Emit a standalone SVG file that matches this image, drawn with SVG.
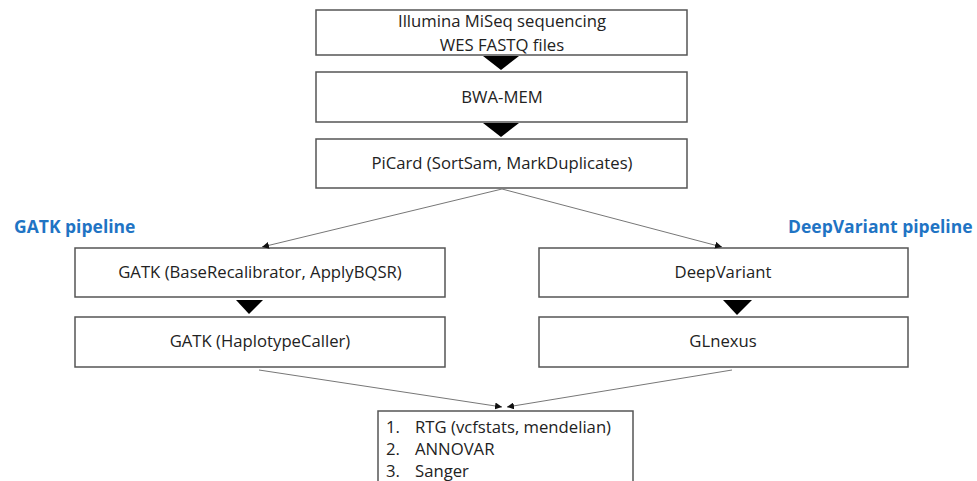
<svg xmlns="http://www.w3.org/2000/svg" width="977" height="481" viewBox="0 0 977 481">
<defs>
<marker id="ah" viewBox="0 0 10 10" refX="10" refY="5" markerWidth="7" markerHeight="7" markerUnits="userSpaceOnUse" orient="auto">
<path d="M0,0 L10,5 L0,10 z" fill="#111"/>
</marker>
</defs>
<style>
.box{fill:#fff;stroke:#555;stroke-width:1.5}
.t{font-family:"Open Sans","Liberation Sans",sans-serif;font-size:16.7px;fill:#222;text-anchor:middle}
.tl{font-family:"Open Sans","Liberation Sans",sans-serif;font-size:16.7px;fill:#222}
.h{font-family:"Open Sans","Liberation Sans",sans-serif;font-size:17.5px;font-weight:bold;fill:#1F74C4}
.tri{fill:#000}
.con{stroke:#777;stroke-width:1;fill:none;marker-end:url(#ah)}
</style>
<rect width="977" height="481" fill="#fff"/>
<g id="labels">
<text class="h" x="14" y="233">GATK pipeline</text>
<text class="h" x="788" y="233">DeepVariant pipeline</text>
</g>
<g id="n-illumina">
<rect class="box" x="316" y="10" width="371" height="45"/>
<text class="t" x="502" y="27">Illumina MiSeq sequencing</text>
<text class="t" x="502" y="50.5">WES FASTQ files</text>
</g>
<g id="n-bwa">
<rect class="box" x="316" y="72" width="371" height="50"/>
<text class="t" x="502" y="103">BWA-MEM</text>
</g>
<g id="n-picard">
<rect class="box" x="316" y="139" width="371" height="49"/>
<text class="t" x="502" y="169">PiCard (SortSam, MarkDuplicates)</text>
</g>
<g id="n-gatk1">
<rect class="box" x="75" y="248" width="370" height="49"/>
<text class="t" x="260" y="278">GATK (BaseRecalibrator, ApplyBQSR)</text>
</g>
<g id="n-gatk2">
<rect class="box" x="75" y="317" width="370" height="50"/>
<text class="t" x="260" y="347">GATK (HaplotypeCaller)</text>
</g>
<g id="n-deepvariant">
<rect class="box" x="539" y="248" width="369" height="49"/>
<text class="t" x="723" y="278">DeepVariant</text>
</g>
<g id="n-glnexus">
<rect class="box" x="539" y="317" width="369" height="50"/>
<text class="t" x="723" y="347">GLnexus</text>
</g>
<g id="n-results">
<rect class="box" x="378" y="411" width="255" height="80"/>
<text class="tl" x="386" y="433">1.</text>
<text class="tl" x="415" y="433">RTG (vcfstats, mendelian)</text>
<text class="tl" x="386" y="455">2.</text>
<text class="tl" x="415" y="455">ANNOVAR</text>
<text class="tl" x="386" y="477">3.</text>
<text class="tl" x="415" y="477">Sanger</text>
</g>
<g id="connectors">
<path class="tri" d="M483,56 L519,56 L501,70 z"/>
<path class="tri" d="M483,123 L519,123 L501,137 z"/>
<path class="tri" d="M236,300 L263,300 L249,314 z"/>
<path class="tri" d="M723,300 L752,300 L737,315 z"/>
<line class="con" x1="502" y1="189" x2="262" y2="247"/>
<line class="con" x1="502" y1="189" x2="722" y2="247"/>
<line class="con" x1="259" y1="370" x2="502" y2="407"/>
<line class="con" x1="732" y1="370" x2="507" y2="407"/>
</g>
</svg>
